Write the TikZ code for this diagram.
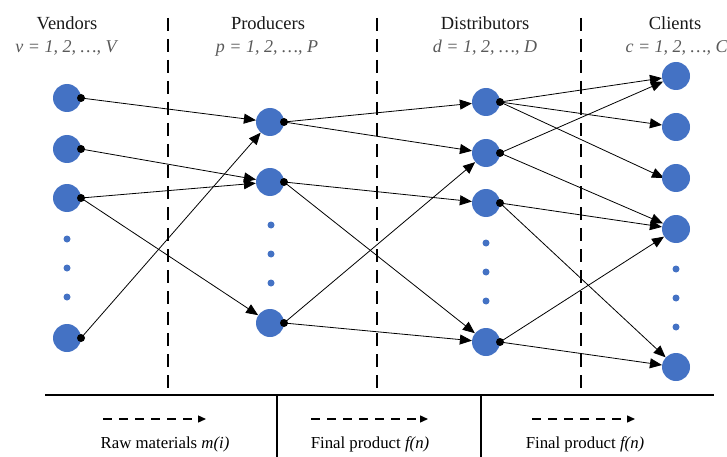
\documentclass[tikz,border=0pt]{standalone}
\usepackage{fontspec}
\setmainfont{Liberation Serif}
\usetikzlibrary{arrows.meta}
\definecolor{nodeblue}{HTML}{4472C4}
\definecolor{subgray}{HTML}{595959}
\tikzset{
  bignode/.style={circle,fill=nodeblue,minimum size=28pt,inner sep=0pt},
  tinydot/.style={circle,fill=nodeblue,minimum size=7pt,inner sep=0pt},
  srcdot/.style={circle,fill=black,minimum size=8pt,inner sep=0pt},
  flow/.style={line width=0.8pt,-{Triangle[length=12pt,width=10pt]}},
  sep/.style={line width=1.8pt,dash pattern=on 13pt off 8pt},
  frame/.style={line width=1.6pt},
  legarrow/.style={line width=1.4pt,dash pattern=on 9pt off 7pt,-{Triangle[length=8pt,width=7pt]}},
  title/.style={font=\fontsize{18.5}{21}\selectfont,anchor=base,text=black!90},
  sub/.style={font=\fontsize{18}{21}\selectfont\itshape,text=subgray,anchor=base},
  legend/.style={font=\fontsize{16.8}{20}\selectfont,anchor=base}
}
\begin{document}
\begin{tikzpicture}[x=1pt,y=-1pt]
\useasboundingbox (0,0) rectangle (727,457);
% headers
\node[title] (tv) at (67,30) {Vendors};
\node[sub] (sv) at (66,53) {v = 1, 2, …, V};
\node[title] (tp) at (268,30) {Producers};
\node[sub] (sp) at (267,53) {p = 1, 2, …, P};
\node[title] (td) at (485,30) {Distributors};
\node[sub] (sd) at (485,53) {d = 1, 2, …, D};
\node[title] (tc) at (675,30) {Clients};
\node[sub,anchor=base west] (sc) at (622,53) {c = 1, 2, …, C};
% separators
\coordinate (s1t) at (168,18); \coordinate (s1b) at (168,395);
\coordinate (s2t) at (377,18); \coordinate (s2b) at (377,395);
\coordinate (s3t) at (581,18); \coordinate (s3b) at (581,395);
\draw[sep] (s1t) -- (s1b);
\draw[sep] (s2t) -- (s2b);
\draw[sep] (s3t) -- (s3b);
\coordinate (hl) at (45,395); \coordinate (hr) at (714,395);
\draw[frame] (hl) -- (hr);
\coordinate (b1t) at (277,395); \coordinate (b1b) at (277,457);
\coordinate (b2t) at (481,395); \coordinate (b2b) at (481,457);
\draw[frame] (b1t) -- (b1b);
\draw[frame] (b2t) -- (b2b);
% vendors
\node[bignode] (v1) at (67,98) {};
\node[bignode] (v2) at (67,149) {};
\node[bignode] (v3) at (67,198) {};
\node[bignode] (v4) at (67,338) {};
\node[tinydot] (vd1) at (67,239) {};
\node[tinydot] (vd2) at (67,268) {};
\node[tinydot] (vd3) at (67,297) {};
% producers
\node[bignode] (p1) at (270,122) {};
\node[bignode] (p2) at (270,182) {};
\node[bignode] (p3) at (270,323) {};
\node[tinydot] (pd1) at (271,225) {};
\node[tinydot] (pd2) at (271,254) {};
\node[tinydot] (pd3) at (271,283) {};
% distributors
\node[bignode] (d1) at (486,102) {};
\node[bignode] (d2) at (486,153) {};
\node[bignode] (d3) at (486,203) {};
\node[bignode] (d4) at (486,342) {};
\node[tinydot] (dd1) at (486,243) {};
\node[tinydot] (dd2) at (486,272) {};
\node[tinydot] (dd3) at (486,301) {};
% clients
\node[bignode] (c1) at (676,76) {};
\node[bignode] (c2) at (676,127) {};
\node[bignode] (c4) at (676,229) {};
\node[bignode] (c5) at (676,367) {};
\node[tinydot] (cd1) at (676,269) {};
\node[tinydot] (cd2) at (676,298) {};
\node[tinydot] (cd3) at (676,327) {};
\coordinate (c3) at (676,178);
% source dots
\foreach \n in {v1,v2,v3,v4,p1,p2,p3,d1,d2,d3,d4}
  \node[srcdot] (\n o) at ([xshift=14pt]\n.center) {};
% flows
\draw[flow] (v1o.center) -- (p1);
\draw[flow] (v2o.center) -- (p2);
\draw[flow] (v3o.center) -- (p2);
\draw[flow] (v3o.center) -- (p3);
\draw[flow] (v4o.center) -- (p1);
\draw[flow] (p1o.center) -- (d1);
\draw[flow] (p1o.center) -- (d2);
\draw[flow] (p2o.center) -- (d3);
\draw[flow] (p2o.center) -- (d4);
\draw[flow] (p3o.center) -- (d2);
\draw[flow] (p3o.center) -- (d4);
\draw[flow] (d1o.center) -- ([xshift=-12pt]c3);
\draw[flow] (d1o.center) -- (c1);
\draw[flow] (d1o.center) -- (c2);
\draw[flow] (d2o.center) -- (c1);
\draw[flow] (d2o.center) -- (c4);
\draw[flow] (d3o.center) -- (c4);
\draw[flow] (d3o.center) -- (c5);
\draw[flow] (d4o.center) -- (c4);
\draw[flow] (d4o.center) -- (c5);
\node[bignode] (c3n) at (c3) {};
% legend
\coordinate (l1a) at (103,419); \coordinate (l1b) at (206,419);
\coordinate (l2a) at (311,419); \coordinate (l2b) at (428,419);
\coordinate (l3a) at (532,419); \coordinate (l3b) at (635,419);
\draw[legarrow] (l1a) -- (l1b);
\draw[legarrow] (l2a) -- (l2b);
\draw[legarrow] (l3a) -- (l3b);
\node[legend] (lt1) at (165,448) {Raw materials \textit{m(i)}};
\node[legend] (lt2) at (370,448) {Final product \textit{f(n)}};
\node[legend] (lt3) at (585,448) {Final product \textit{f(n)}};
\end{tikzpicture}
\end{document}
